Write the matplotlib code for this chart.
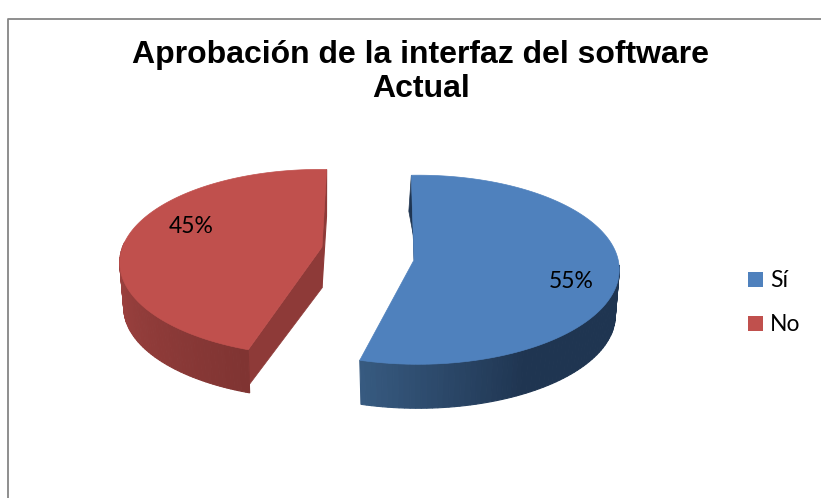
import numpy as np
import matplotlib
matplotlib.use('Agg')
import matplotlib.pyplot as plt
from matplotlib.colors import to_rgb
from matplotlib.patches import Rectangle

title = 'Aprobación de la interfaz del software\nActual'
categories = ['Sí', 'No']
values = [55, 45]


def rim(t, cx, cy, a, b, k=0.05, scale=1.0, drop=0.0):
    # ring of the tilted pie, t in degrees, pixel coordinates
    s = np.sin(np.radians(t))
    c = np.cos(np.radians(t))
    w = 1 + k * s
    return cx + scale * a * c / w, cy + drop - scale * b * s / w


def mix(c1, c2, f):
    c1, c2 = np.array(to_rgb(c1)), np.array(to_rgb(c2))
    return tuple(c1 + (c2 - c1) * f)


def draw_slice(ax, value, start, geo, apex, top_col, wall_from, wall_to, wall_range, fade, back_face, cut_col, depth):
    sweep = value / sum(values) * 360
    t = np.linspace(start, start - sweep, 200)
    scale = 0.98
    x0, y0 = rim(start, *geo)
    x1, y1 = rim(start - sweep, *geo)
    bx, by = rim(start - sweep, *geo, scale=scale, drop=depth)

    # back cut face
    ax.fill([x0, x0 + back_face[0], apex[0] + back_face[2], apex[0]],
            [y0, y0 + back_face[1], apex[1] + back_face[3], apex[1]],
            color=back_face[4], lw=0.5, zorder=2)

    # round wall, darker towards one end
    seg = np.linspace(wall_range[0], wall_range[1], 70)
    for i in range(len(seg) - 1):
        xa, ya = rim(seg[i:i + 2], *geo)
        xb, yb = rim(seg[i:i + 2], *geo, scale=scale, drop=depth)
        f = np.clip((seg[i] - fade[0]) / (fade[1] - fade[0]), 0, 1)
        ax.fill([xa[0], xa[1], xb[1], xb[0]], [ya[0], ya[1], yb[1], yb[0]],
                color=mix(wall_from, wall_to, f), lw=0.8, zorder=2)

    # front cut face
    if cut_col:
        ax.fill([apex[0], x1, bx, apex[0]], [apex[1], y1, by, apex[1] + 41],
                color=cut_col, lw=0.8, zorder=3)

    xs, ys = rim(t, *geo)
    ax.fill(np.r_[apex[0], xs], np.r_[apex[1], ys], color=top_col, lw=0.5, zorder=4)


fig = plt.figure(figsize=(8.21, 4.98), dpi=100)
ax = fig.add_axes([0, 0, 1, 1])
ax.set_xlim(0, 821)
ax.set_ylim(498, 0)
ax.axis('off')

# chart frame, open at right and bottom edges of the crop
ax.plot([7.5, 7.5, 821], [498, 19, 19], color='#868686', lw=1.3, zorder=1)

ax.text(421, 72, title, ha='center', va='center', family='Liberation Sans',
        fontweight='bold', fontsize=23, linespacing=1.2, color='black')

draw_slice(ax, values[0], 92, (418, 265, 201, 94.3), (414, 260), '#4F81BD',
           '#375A80', '#1F3551', (254, 360), (254, 300),
           (-2.5, 36, 3, -5, '#1F3551'), None, 46)
draw_slice(ax, values[1], 250, (320, 258, 200, 93), (322, 247), '#C0504D',
           '#A34442', '#7F3432', (170, 250), (170, 250),
           (1, 35, 0, 41, '#8E3A38'), '#8E3A38', 45)

ax.text(191, 226, f'{values[1]}%', ha='center', va='center', family='Lato', fontsize=16.5, color='black', zorder=5)
ax.text(571, 281, f'{values[0]}%', ha='center', va='center', family='Lato', fontsize=16.5, color='black', zorder=5)

for y, name, col in zip([272, 316], categories, ['#4F81BD', '#C0504D']):
    ax.add_patch(Rectangle((748, y), 15, 15, color=col, lw=0))
    ax.text(770, y + 8, name, ha='left', va='center', family='Lato', fontsize=16.5, color='black')

fig.savefig('out.png', dpi=100)
